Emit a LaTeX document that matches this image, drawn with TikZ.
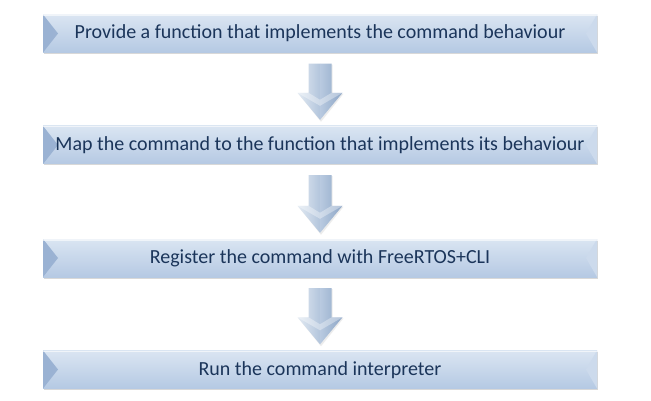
\documentclass[tikz,border=0pt]{standalone}
\usepackage{fontspec}
\setmainfont{Carlito}
\usetikzlibrary{calc,shadows}
\definecolor{boxtop}{HTML}{DAE5F2}
\definecolor{boxbot}{HTML}{B5C9E3}
\definecolor{bevleftA}{HTML}{9AB2D3}
\definecolor{bevleftB}{HTML}{B7CAE2}
\definecolor{bevright}{HTML}{CCDAEC}
\definecolor{txt}{HTML}{1B355A}
\definecolor{arlA}{HTML}{E2EAF3}
\definecolor{arlB}{HTML}{B3C5DC}
\definecolor{arrA}{HTML}{B9CAE0}
\definecolor{arrB}{HTML}{8DA6C6}
\tikzset{
  stepbox/.style={minimum width=554pt, minimum height=38pt, inner sep=0pt,
    top color=boxtop, bottom color=boxbot, draw=none,
    drop shadow={opacity=0.3, shadow xshift=0.5pt, shadow yshift=-1.5pt},
    font=\fontsize{20}{24}\selectfont, text=txt, text height=14pt, text depth=3pt,
    path picture={
      \path[left color=bevleftA, right color=bevleftB] (path picture bounding box.north west) -- ($(path picture bounding box.west)+(15,0)$) -- (path picture bounding box.south west) -- cycle;
      \fill[bevright] (path picture bounding box.north east) -- ($(path picture bounding box.east)+(-11,0)$) -- (path picture bounding box.south east) -- cycle;
      \fill[white, opacity=0.6] (path picture bounding box.north west) rectangle ($(path picture bounding box.north east)+(0,1.5)$);
    }},
  arrowL/.style={left color=arlA, right color=arlB},
  arrowR/.style={left color=arrA, right color=arrB},
}
\newcommand\flowarrow[2]{%
  \coordinate (ft) at ($(#1.south)+(0,11)$);
  \coordinate (fh) at ($(#2.north)+(0,-6)$);
  \fill[gray, opacity=0.15] ($(ft)+(-10.5,1)$) -- ($(ft)+(12.5,1)$) -- ($(fh)+(12.5,-26)$) -- ($(fh)+(23.5,-26)$) -- ($(fh)+(1,2)$) -- ($(fh)+(-21.5,-26)$) -- ($(fh)+(-10.5,-26)$) -- cycle;
  \path[arrowL] ($(ft)+(-11.5,0)$) -- (ft) -- (fh) -- ($(fh)+(-22.5,-27)$) -- ($(fh)+(-11.5,-27)$) -- cycle;
  \path[arrowR] (ft) -- ($(ft)+(11.5,0)$) -- ($(fh)+(11.5,-27)$) -- ($(fh)+(22.5,-27)$) -- (fh) -- cycle;
  \fill[white, opacity=0.35] ($(fh)+(-22.5,-27)$) -- ($(fh)+(-11.5,-27)$) -- ($(fh)+(0,-20)$) -- ($(fh)+(11.5,-27)$) -- ($(fh)+(22.5,-27)$) -- ($(fh)+(0,-14)$) -- cycle;
}
\begin{document}
\begin{tikzpicture}[x=1pt,y=-1pt]
\useasboundingbox[fill=white] (0,0) rectangle (651,401);
\node[stepbox] (b1) at (320,33.5) {Provide a function that implements the command behaviour};
\node[stepbox] (b2) at (320,145) {Map the command to the function that implements its behaviour};
\node[stepbox] (b3) at (320,258) {Register the command with FreeRTOS+CLI};
\node[stepbox] (b4) at (320,369.5) {Run the command interpreter};
\flowarrow{b1}{b2}
\flowarrow{b2}{b3}
\flowarrow{b3}{b4}
\end{tikzpicture}
\end{document}
